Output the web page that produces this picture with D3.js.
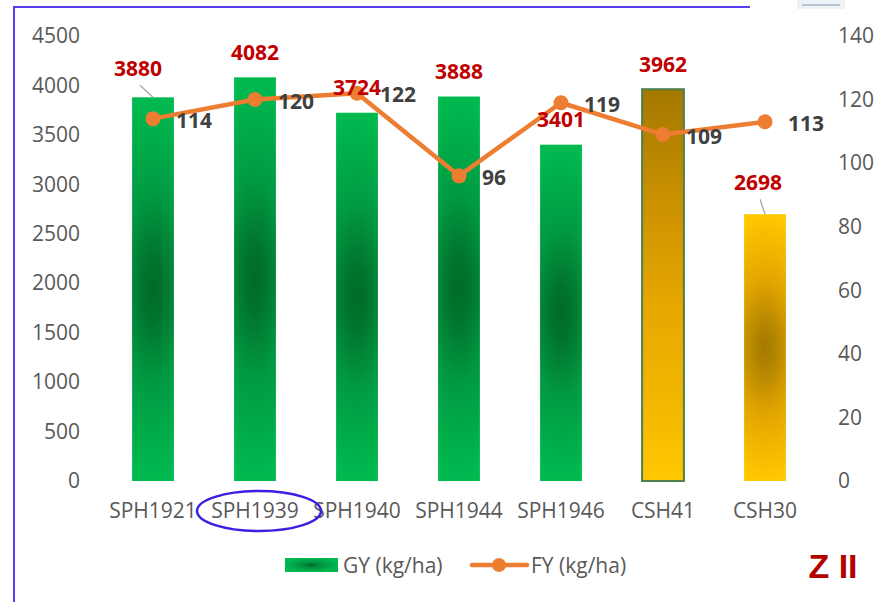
<!DOCTYPE html>
<html>
<head>
<meta charset="utf-8">
<script src="https://cdn.jsdelivr.net/npm/d3@7"></script>
<style>
  html, body { margin: 0; padding: 0; background: #ffffff; }
  svg { display: block; }
  text { font-family: "Open Sans", "Liberation Sans", sans-serif; }
</style>
</head>
<body>
<script>
// ---- data ----
const categories = ["SPH1921", "SPH1939", "SPH1940", "SPH1944", "SPH1946", "CSH41", "CSH30"];
const gyValues = [3880, 4082, 3724, 3888, 3401, 3962, 2698];
const fyValues = [114, 120, 122, 96, 119, 109, 113];
const leftTicks = [0, 500, 1000, 1500, 2000, 2500, 3000, 3500, 4000, 4500];
const rightTicks = [0, 20, 40, 60, 80, 100, 120, 140];
const seriesNames = ["GY (kg/ha)", "FY (kg/ha)"];
const cornerTag = "Z II";
const circledCategory = "SPH1939";

// ---- styling / layout config ----
const W = 885, H = 602;
const barFillIds = ["gGreen", "gGreen", "gGreen", "gGreen", "gGreen", "gGoldLin", "gGoldRad"];
const gyLabelNudge = { "SPH1921": [-15, -4], "CSH30": [-7, -7] };
const red = "#C00000", darkText = "#404040", axisText = "#595959", orange = "#ED7D31";

const svg = d3.select("body").append("svg").attr("width", W).attr("height", H);
const defs = svg.append("defs");

const gg = defs.append("radialGradient").attr("id", "gGreen")
  .attr("cx", 0.5).attr("cy", 0.5).attr("r", 0.5)
  .attr("gradientTransform", "translate(0.5,0.5) scale(3,1) translate(-0.5,-0.5)");
[[0, "#006B2A"], [0.15, "#00722E"], [0.5, "#009A41"], [1, "#00BA50"]]
  .forEach(([o, c]) => gg.append("stop").attr("offset", o).attr("stop-color", c));

const gl = defs.append("radialGradient").attr("id", "gGreenLegend")
  .attr("cx", 0.5).attr("cy", 0.5).attr("r", 0.5);
[[0, "#006628"], [0.35, "#009240"], [1, "#00B850"]]
  .forEach(([o, c]) => gl.append("stop").attr("offset", o).attr("stop-color", c));

const gli = defs.append("linearGradient").attr("id", "gGoldLin")
  .attr("x1", 0).attr("y1", 0).attr("x2", 0).attr("y2", 1);
[[0, "#A47800"], [0.3, "#CC9200"], [0.55, "#E6A700"], [0.8, "#F2B700"], [1, "#FFC800"]]
  .forEach(([o, c]) => gli.append("stop").attr("offset", o).attr("stop-color", c));

const gr = defs.append("radialGradient").attr("id", "gGoldRad")
  .attr("cx", 0.5).attr("cy", 0.5).attr("r", 0.5)
  .attr("gradientTransform", "translate(0.5,0.5) scale(3,1) translate(-0.5,-0.5)");
[[0, "#A47A00"], [0.15, "#B08300"], [0.5, "#E2A500"], [1, "#FFC800"]]
  .forEach(([o, c]) => gr.append("stop").attr("offset", o).attr("stop-color", c));

// ---- frame ----
svg.append("line").attr("x1", 14).attr("y1", 7).attr("x2", 750).attr("y2", 7)
  .attr("stroke", "#5B3CF0").attr("stroke-width", 2);
svg.append("line").attr("x1", 14).attr("y1", 6).attr("x2", 14).attr("y2", H)
  .attr("stroke", "#5B3CF0").attr("stroke-width", 2);
// faint logo fragment top-right
svg.append("rect").attr("x", 797).attr("y", 0).attr("width", 48).attr("height", 9)
  .attr("fill", "#edf2f5");
svg.append("rect").attr("x", 802).attr("y", 4).attr("width", 38).attr("height", 2)
  .attr("fill", "#b7c6d2");

// ---- scales ----
const x = d3.scaleBand().domain(categories).range([102, 816])
  .paddingInner(0.59).paddingOuter(0.295);
const yL = d3.scaleLinear().domain([0, 4500]).range([481, 36]);
const yR = d3.scaleLinear().domain([0, 140]).range([481, 36]);

// ---- axes (labels only) ----
const axL = svg.append("g").attr("transform", "translate(80,0)")
  .call(d3.axisLeft(yL).tickValues(leftTicks).tickFormat(d3.format("d")).tickSize(0).tickPadding(0));
const axR = svg.append("g").attr("transform", "translate(838,0)")
  .call(d3.axisRight(yR).tickValues(rightTicks).tickFormat(d3.format("d")).tickSize(0).tickPadding(0));
const axB = svg.append("g").attr("transform", "translate(0,503)")
  .call(d3.axisBottom(x).tickSize(0).tickPadding(0));
[axL, axR, axB].forEach(a => {
  a.select(".domain").remove();
  a.selectAll("text").attr("fill", axisText).style("font-size", "21px")
    .style("font-family", "'Open Sans', sans-serif");
});
axB.selectAll("text").attr("dy", "0.71em").attr("y", 0);

// ---- bars ----
svg.append("g").selectAll("rect").data(categories).join("rect")
  .attr("x", d => x(d))
  .attr("y", (d, i) => yL(gyValues[i]))
  .attr("width", x.bandwidth())
  .attr("height", (d, i) => yL(0) - yL(gyValues[i]))
  .attr("fill", (d, i) => `url(#${barFillIds[i]})`)
  .attr("stroke", (d, i) => barFillIds[i] === "gGoldLin" ? "#4F7F4C" : "none")
  .attr("stroke-width", 2);

// ---- line ----
const cx = d => x(d) + x.bandwidth() / 2;
svg.append("path")
  .datum(categories)
  .attr("fill", "none").attr("stroke", orange).attr("stroke-width", 4.5)
  .attr("stroke-linejoin", "round")
  .attr("d", d3.line().x(d => cx(d)).y((d, i) => yR(fyValues[i])));
svg.append("g").selectAll("circle").data(categories).join("circle")
  .attr("cx", d => cx(d)).attr("cy", (d, i) => yR(fyValues[i]))
  .attr("r", 7.5).attr("fill", orange);

// ---- GY labels + leader lines ----
categories.forEach((c, i) => {
  const nud = gyLabelNudge[c] || [0, 0];
  const lx = cx(c) + nud[0];
  const ly = yL(gyValues[i]) - 25 + nud[1];
  if (gyLabelNudge[c]) {
    svg.append("line")
      .attr("x1", lx + 2).attr("y1", ly + 17)
      .attr("x2", cx(c)).attr("y2", yL(gyValues[i]))
      .attr("stroke", "#A6A6A6").attr("stroke-width", 1.3);
  }
  svg.append("text").attr("x", lx).attr("y", ly).attr("dy", "0.36em")
    .attr("text-anchor", "middle").attr("fill", red)
    .style("font-size", "21px").style("font-weight", "700")
    .text(gyValues[i]);
});

// ---- FY labels ----
svg.append("g").selectAll("text").data(categories).join("text")
  .attr("x", d => cx(d) + 23)
  .attr("y", (d, i) => yR(fyValues[i]) + 1.5)
  .attr("dy", "0.36em")
  .attr("fill", darkText)
  .style("font-size", "21px").style("font-weight", "700")
  .text((d, i) => fyValues[i]);

// ---- circled category ----
svg.append("ellipse")
  .attr("cx", cx(circledCategory) + 4).attr("cy", 511)
  .attr("rx", 62).attr("ry", 20)
  .attr("fill", "none").attr("stroke", "#3B1FE3").attr("stroke-width", 2.5);

// ---- legend ----
const lg = svg.append("g");
lg.append("rect").attr("x", 285).attr("y", 558).attr("width", 53).attr("height", 14)
  .attr("fill", "url(#gGreenLegend)");
lg.append("text").attr("x", 343).attr("y", 565).attr("dy", "0.36em")
  .attr("fill", axisText).style("font-size", "21px").text(seriesNames[0]);
lg.append("line").attr("x1", 472).attr("x2", 527).attr("y1", 565).attr("y2", 565)
  .attr("stroke", orange).attr("stroke-width", 4.5).attr("stroke-linecap", "round");
lg.append("circle").attr("cx", 499).attr("cy", 565).attr("r", 7).attr("fill", orange);
lg.append("text").attr("x", 531).attr("y", 565).attr("dy", "0.36em")
  .attr("fill", axisText).style("font-size", "21px").text(seriesNames[1]);

// ---- corner tag ----
svg.append("text").attr("x", 833).attr("y", 566).attr("dy", "0.36em")
  .attr("text-anchor", "middle").attr("fill", "#B50000")
  .style("font-family", "'Liberation Sans', Arial, sans-serif")
  .style("font-size", "34px").style("font-weight", "700")
  .text(cornerTag);
</script>
</body>
</html>
